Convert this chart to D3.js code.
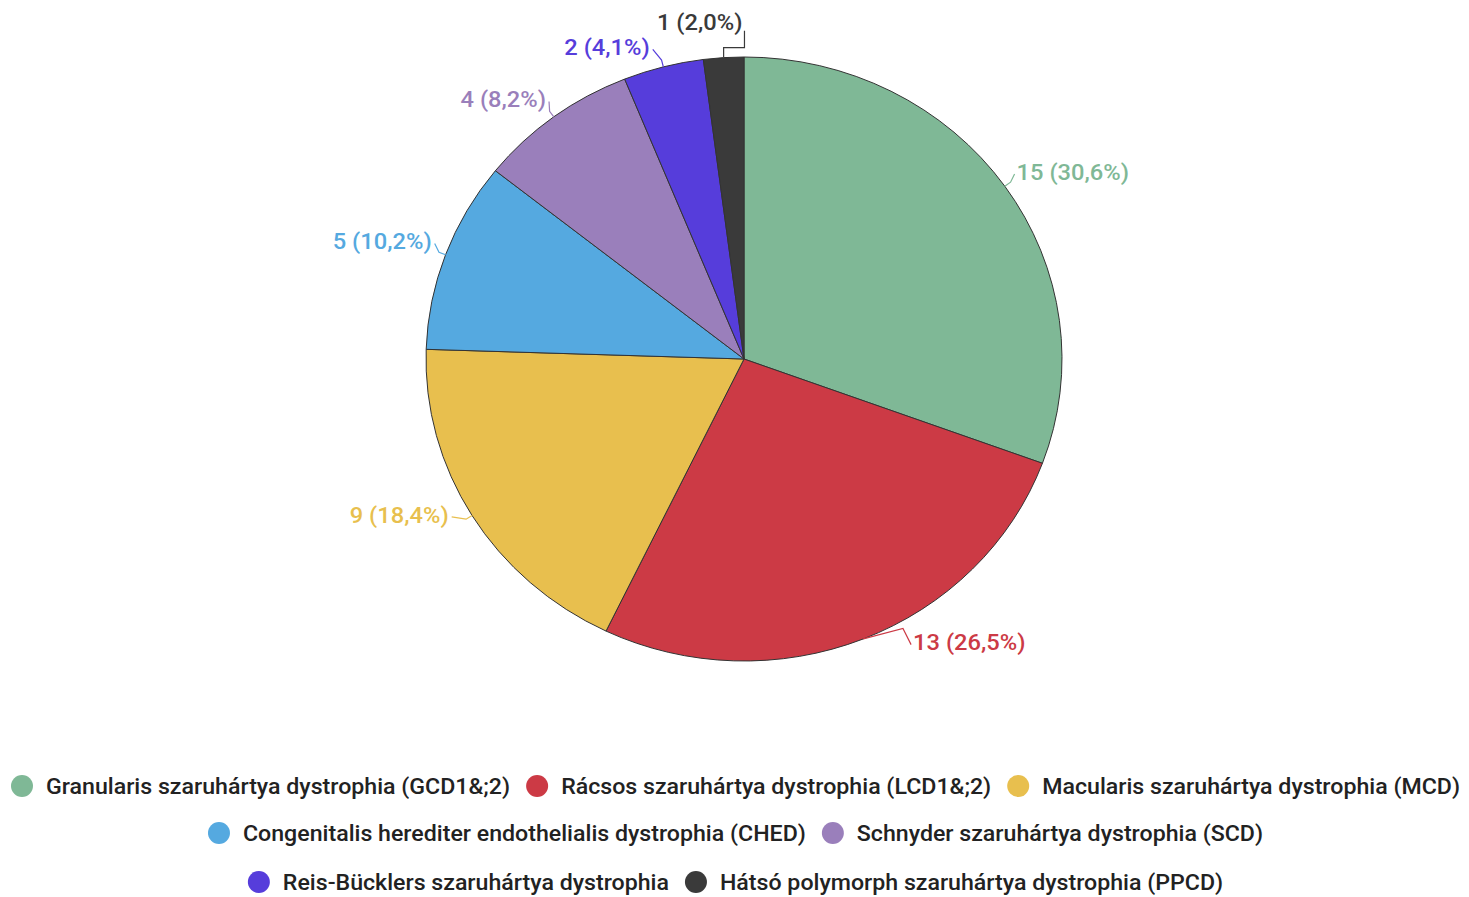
<!DOCTYPE html>
<html>
<head>
<meta charset="utf-8">
<script src="https://cdn.jsdelivr.net/npm/d3@7"></script>
<style>
  html, body { margin: 0; padding: 0; background: #fff; }
  svg { display: block; font-family: Roboto, "Noto Sans", sans-serif; }
</style>
</head>
<body>
<svg id="chart" width="1469" height="897"></svg>
<script>
// Corneal dystrophy cases by type
const categories = [
  "Granularis szaruhártya dystrophia (GCD1&;2)",
  "Rácsos szaruhártya dystrophia (LCD1&;2)",
  "Macularis szaruhártya dystrophia (MCD)",
  "Congenitalis herediter endothelialis dystrophia (CHED)",
  "Schnyder szaruhártya dystrophia (SCD)",
  "Reis-Bücklers szaruhártya dystrophia",
  "Hátsó polymorph szaruhártya dystrophia (PPCD)"
];
const counts = [15, 13, 9, 5, 4, 2, 1];
const percentLabels = ["30,6%", "26,5%", "18,4%", "10,2%", "8,2%", "4,1%", "2,0%"];
const colors = ["#7fb896", "#cc3a45", "#e8bf4e", "#55a9e0", "#9a7fbb", "#563ddb", "#3a3a3a"];
const legendRows = [[0, 1, 2], [3, 4], [5, 6]];

// Layout: label nudges (px) for crowded slices, relative to the radial anchor
const labelNudge = [[-3, -4], [43, -13], [-8, -10], [3, -7], [3, -3], [-9, -2], [22, -18]];
// Layout: leader elbow nudges (px)
const elbowNudge = [[0, 0], [37, -17], [0, 0], [0, 0], [0, 0], [0, 0], [0, 0]];

const svg = d3.select("#chart");
const cx = 744, cy = 359, ry = 302, rx = 318;
const sx = rx / ry;   // whole drawing is slightly wider than tall

const data = categories.map((c, i) => ({ name: c, value: counts[i], pct: percentLabels[i], color: colors[i], i }));

const pie = d3.pie().value(d => d.value).sort(null);
const arcs = pie(data);
const arc = d3.arc().innerRadius(0).outerRadius(ry);

const g = svg.append("g").attr("transform", `translate(${cx},${cy})`);
const pieG = g.append("g").attr("transform", `scale(${sx},1)`);

pieG.selectAll("path.slice")
  .data(arcs)
  .join("path")
  .attr("class", "slice")
  .attr("d", arc)
  .attr("fill", d => d.data.color)
  .attr("stroke", "#333")
  .attr("stroke-width", 1)
  .attr("vector-effect", "non-scaling-stroke");

// point on the stretched rim at a given angle and radial offset
function rim(angle, off) {
  return [Math.sin(angle) * (rx + off), -Math.cos(angle) * (ry + off)];
}

const labels = g.append("g");
arcs.forEach(a => {
  const mid = (a.startAngle + a.endAngle) / 2;
  const d = a.data;
  const right = Math.sin(mid) >= 0;
  const base = rim(mid, 18);
  const nud = labelNudge[d.i];
  const lx = base[0] + nud[0], ly = base[1] + nud[1];
  const edge = rim(mid, 0);
  const e0 = rim(mid, 7);
  const elbow = [e0[0] + elbowNudge[d.i][0], e0[1] + elbowNudge[d.i][1]];
  let pts;
  if (d.i === 6) {
    // smallest slice: stepped leader up to the label's lower right corner
    pts = [edge, [edge[0], edge[1] - 10], [lx, edge[1] - 10], [lx, ly + 9]];
  } else {
    const end = [lx + (right ? -2 : 3), ly + 2];
    pts = [edge, elbow, end];
  }
  labels.append("path")
    .attr("d", d3.line()(pts))
    .attr("fill", "none")
    .attr("stroke", d.color)
    .attr("stroke-width", 1.2);
  labels.append("text")
    .attr("transform", `translate(${lx + (d.i === 6 ? -2 : 0)},${ly}) scale(${sx},1)`)
    .attr("dy", "0.35em")
    .attr("text-anchor", d.i === 6 ? "end" : (right ? "start" : "end"))
    .attr("fill", d.color)
    .attr("font-size", 22.5)
    .attr("font-weight", 500)
    .text(`${d.value} (${d.pct})`);
});

// Legend, rows centered
const legend = svg.append("g");
const rowY = [786, 833, 882];
const gapCircleText = 24, gapTextCircle = 27, rad = 11;
legendRows.forEach((row, ri) => {
  const rg = legend.append("g");
  let x = 0;
  row.forEach((idx, k) => {
    rg.append("circle").attr("cx", x + rad).attr("cy", 0).attr("r", rad).attr("fill", colors[idx]);
    const tx = x + rad + gapCircleText;
    const t = rg.append("text")
      .attr("transform", `translate(${tx},0) scale(${sx},1)`)
      .attr("dy", "0.35em")
      .attr("fill", "#222")
      .attr("font-size", 22)
      .attr("font-weight", 500)
      .text(categories[idx]);
    const w = t.node().getComputedTextLength() * sx;
    x = tx + w + gapTextCircle - rad;
  });
  const totalW = x - gapTextCircle + rad;
  rg.attr("transform", `translate(${(1469 - totalW) / 2 + 1},${rowY[ri]})`);
});
</script>
</body>
</html>
